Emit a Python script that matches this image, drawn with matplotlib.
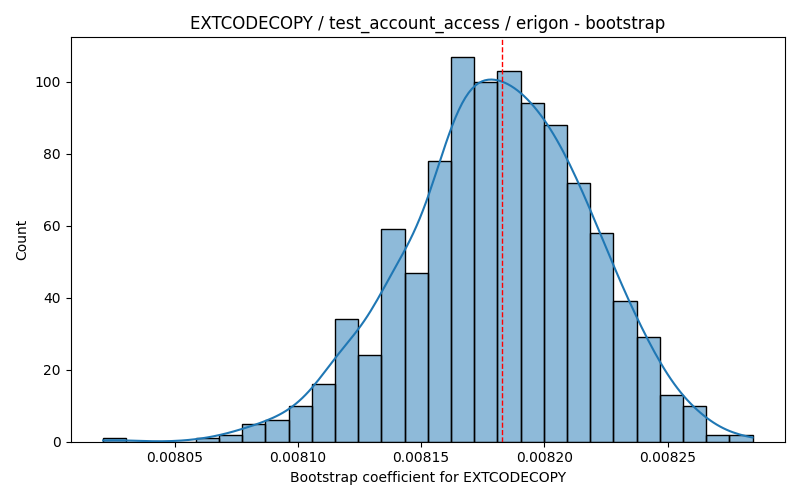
import math
import numpy as np
import matplotlib.pyplot as plt

# histogram (28 equal bins)
bin_lo = 0.00802099
bin_hi = 0.0082845
counts = [1, 0, 0, 0, 1, 2, 5, 6, 10, 16, 34, 24, 59, 47, 78,
          107, 100, 103, 94, 88, 72, 58, 39, 29, 13, 10, 2, 2]
estimate = 0.0081829  # red dashed marker

counts = np.array(counts, dtype=float)
edges = np.linspace(bin_lo, bin_hi, len(counts) + 1)
centers = (edges[:-1] + edges[1:]) / 2
width = edges[1] - edges[0]
n = counts.sum()

# gaussian kde of the binned sample (mass spread evenly inside each bin),
# scott bandwidth, scaled to counts like seaborn does
mean = np.sum(counts * centers) / n
std = np.sqrt(np.sum(counts * (centers - mean) ** 2) / n)
bw = std * n ** (-1 / 5)
grid = np.linspace(bin_lo, bin_hi, 200)
cdf = np.vectorize(lambda z: 0.5 * (1 + math.erf(z / math.sqrt(2))))
a = cdf((grid[:, None] - edges[None, :-1]) / bw)
b = cdf((grid[:, None] - edges[None, 1:]) / bw)
kde = np.sum(counts[None, :] * (a - b), axis=1)

fig, ax = plt.subplots(figsize=(8, 5), dpi=100)
ax.bar(centers, counts, width=width, color='#1f77b4', alpha=0.5, edgecolor='none')
ax.bar(centers, counts, width=width, fill=False, edgecolor='black', linewidth=1)
ax.plot(grid, kde, color='#1f77b4', linewidth=1.5)
ax.axvline(estimate, color='red', linestyle='--', linewidth=1)

ax.set_title('EXTCODECOPY / test_account_access / erigon - bootstrap')
ax.set_xlabel('Bootstrap coefficient for EXTCODECOPY')
ax.set_ylabel('Count')
ax.margins(x=0.05)
ax.set_ylim(0, counts.max() * 1.05)
ax.set_xticks([0.00805, 0.00810, 0.00815, 0.00820, 0.00825])
ax.set_xticklabels(['0.00805', '0.00810', '0.00815', '0.00820', '0.00825'])
fig.tight_layout()
fig.savefig('out.png')
